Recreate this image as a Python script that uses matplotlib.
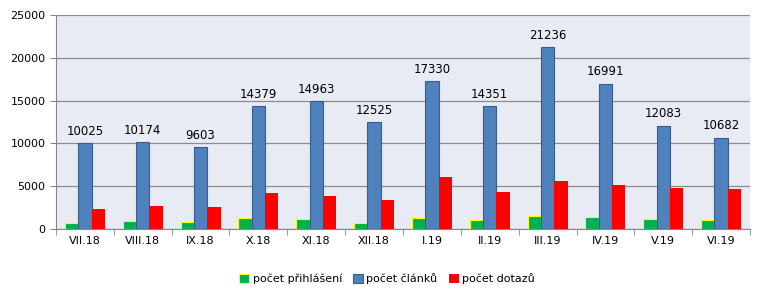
import numpy as np
import matplotlib.pyplot as plt
from matplotlib.ticker import FixedLocator

months = ["VII.18", "VIII.18", "IX.18", "X.18", "XI.18", "XII.18",
          "I.19", "II.19", "III.19", "IV.19", "V.19", "VI.19"]
prihlaseni = [700, 970, 820, 1285, 1170, 700, 1285, 1090, 1555, 1400, 1170, 1090]
clanky = [10025, 10174, 9603, 14379, 14963, 12525, 17330, 14351, 21236, 16991, 12083, 10682]
dotazy = [2370, 2720, 2600, 4240, 3890, 3420, 6110, 4360, 5640, 5175, 4825, 4710]

plt.rcParams['font.family'] = ['DejaVu Sans']
fig = plt.figure(figsize=(7.74, 2.92), dpi=100)
ax = fig.add_axes([56/774, 63/292, 694/774, 214/292])
ax.set_facecolor("#E8EBF3")

x = np.arange(len(months))
w = 0.23
ax.bar(x - w, prihlaseni, w, color="#00B050", edgecolor="#FFFF00", linewidth=0.8,
       label="počet přihlášení", zorder=3)
bars = ax.bar(x, clanky, w, color="#4F81BD", edgecolor="#385D8A", linewidth=0.8,
              label="počet článků", zorder=3)
ax.bar(x + w, dotazy, w, color="#FF0000", label="počet dotazů", zorder=3)

for xi, v in zip(x, clanky):
    ax.text(xi, v + 600, str(v), ha="center", va="bottom", fontsize=8.5)

ax.set_xlim(-0.5, len(months) - 0.5)
ax.set_ylim(0, 25000)
ax.set_yticks(range(0, 25001, 5000))
ax.set_xticks(x)
ax.set_xticklabels(months, fontsize=8)
ax.tick_params(axis="y", labelsize=8, length=4, color="#868686")
ax.tick_params(axis="x", which="major", length=0, pad=5)
ax.xaxis.set_minor_locator(FixedLocator(np.arange(-0.5, len(months), 1)))
ax.tick_params(axis="x", which="minor", length=4, color="#868686")
ax.grid(axis="y", color="#8C8C8C", linewidth=0.9, zorder=0)
ax.set_axisbelow(True)
for s in ["top", "right"]:
    ax.spines[s].set_visible(False)
for s in ["left", "bottom"]:
    ax.spines[s].set_color("#868686")

fig.legend(loc="center", bbox_to_anchor=(0.5, 279/292), ncol=3, frameon=False,
           fontsize=8, handlelength=0.9, handleheight=0.9, handletextpad=0.3,
           columnspacing=1.0)
fig.legends[0].set_bbox_to_anchor((0.5, 1 - 279/292))
fig.savefig("out.png", dpi=100, facecolor="white")
